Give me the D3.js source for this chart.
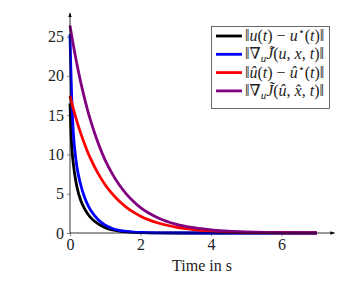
<!DOCTYPE html>
<html>
<head>
<meta charset="utf-8">
<script src="https://cdn.jsdelivr.net/npm/d3@7"></script>
<style>
  body { margin: 0; background: #fff; }
  svg, svg text { font-family: "Liberation Serif", "DejaVu Serif", serif; }
</style>
</head>
<body>
<svg id="chart" width="349" height="288"></svg>
<script>
// time samples (s)
const times = [0, 0.02, 0.05, 0.1, 0.15, 0.2, 0.3, 0.4, 0.5, 0.6, 0.8, 1.0, 1.2, 1.4, 1.6, 1.8, 2.0, 2.5, 3.0, 3.5, 4.0, 4.5, 5.0, 5.5, 6.0, 6.5, 7.0]

// values
const errU = [16.5, 13.8, 11.0, 8.6, 7.0, 5.8, 4.2, 3.2, 2.45, 1.9, 1.15, 0.68, 0.4, 0.24, 0.14, 0.08, 0.05, 0.01, 0, 0, 0, 0, 0, 0, 0, 0, 0]
const gradJ = [25.3, 21.5, 17.0, 12.4, 10.0, 8.3, 6.2, 4.7, 3.6, 2.8, 1.7, 1.0, 0.58, 0.34, 0.2, 0.12, 0.07, 0.02, 0.005, 0, 0, 0, 0, 0, 0, 0, 0]
const errUHat = [17.45, 17.09, 16.56, 15.71, 14.91, 14.14, 12.74, 11.48, 10.32, 9.31, 7.55, 6.11, 4.97, 4.03, 3.27, 2.65, 2.14, 1.27, 0.75, 0.44, 0.26, 0.155, 0.09, 0.054, 0.032, 0.019, 0.011]
const gradJHat = [26.4, 25.85, 25.05, 23.77, 22.56, 21.4, 19.27, 17.36, 15.62, 14.07, 11.42, 9.24, 7.52, 6.1, 4.95, 4.01, 3.23, 1.92, 1.13, 0.67, 0.4, 0.23, 0.14, 0.08, 0.048, 0.029, 0.017]

const xTicks = [0, 2, 4, 6]
const yTicks = [0, 5, 10, 15, 20, 25]
const xLabel = 'Time in s'

// legend labels as [text, italic?, sub/sup] pieces
const legendLabels = [
  [['‖', 0], ['u', 1], ['(', 0], ['t', 1], [') − ', 0], ['u', 1], ['⋆', 0, 'sup'], ['(', 0], ['t', 1], [')‖', 0]],
  [['‖∇', 0], ['u', 1, 'sub'], ['J̃', 1], ['(', 0], ['u', 1], [', ', 0], ['x', 1], [', ', 0], ['t', 1], [')‖', 0]],
  [['‖', 0], ['û', 1], ['(', 0], ['t', 1], [') − ', 0], ['û', 1], ['⋆', 0, 'sup'], ['(', 0], ['t', 1], [')‖', 0]],
  [['‖∇', 0], ['u', 1, 'sub'], ['J̃', 1], ['(', 0], ['û', 1], [', ', 0], ['x̂', 1], [', ', 0], ['t', 1], [')‖', 0]]
]

const series = [
  { values: errU, color: '#000000' },
  { values: gradJ, color: '#0000ff' },
  { values: errUHat, color: '#ff0000' },
  { values: gradJHat, color: '#800080' }
]

const svg = d3.select('#chart')
const FONT = '"Liberation Serif", "DejaVu Serif", serif'

const x = d3.scaleLinear().domain([0, 7.5]).range([70, 334.5])
const y = d3.scaleLinear().domain([0, 28]).range([233, 13])

svg.append('defs').append('marker')
  .attr('id', 'arrow')
  .attr('viewBox', '0 0 8 8')
  .attr('refX', 7)
  .attr('refY', 4)
  .attr('markerWidth', 6)
  .attr('markerHeight', 6)
  .attr('orient', 'auto')
  .append('path')
  .attr('d', 'M0,1 L8,4 L0,7 Z')
  .attr('fill', '#000')

// axes
const xAxis = svg.append('g')
  .attr('transform', 'translate(0,' + y(0) + ')')
  .call(d3.axisBottom(x).tickValues(xTicks).tickSize(3).tickPadding(3).tickFormat(d3.format('d')))
  .attr('font-family', FONT)
xAxis.select('.domain').remove()
xAxis.selectAll('.tick line').attr('stroke', '#888')
xAxis.selectAll('.tick text').attr('font-size', 16).attr('fill', '#222')

const yAxis = svg.append('g')
  .attr('transform', 'translate(' + x(0) + ',0)')
  .call(d3.axisLeft(y).tickValues(yTicks).tickSize(3).tickPadding(3).tickFormat(d3.format('d')))
  .attr('font-family', FONT)
yAxis.select('.domain').remove()
yAxis.selectAll('.tick line').attr('stroke', '#888')
yAxis.selectAll('.tick text').attr('font-size', 16).attr('fill', '#222')

const line = d3.line()
  .x((d, i) => x(times[i]))
  .y(d => y(d))
  .curve(d3.curveMonotoneX)

svg.append('g').selectAll('path')
  .data(series)
  .join('path')
  .attr('d', s => line(s.values))
  .attr('fill', 'none')
  .attr('stroke', s => s.color)
  .attr('stroke-width', 2.8)
  .attr('stroke-linejoin', 'round')

// axis lines with arrows
svg.append('line')
  .attr('x1', x(0)).attr('x2', x(7.5))
  .attr('y1', y(0)).attr('y2', y(0))
  .attr('stroke', '#000').attr('stroke-width', 0.8)
  .attr('marker-end', 'url(#arrow)')
svg.append('line')
  .attr('x1', x(0)).attr('x2', x(0))
  .attr('y1', y(0)).attr('y2', y(28))
  .attr('stroke', '#000').attr('stroke-width', 0.8)
  .attr('marker-end', 'url(#arrow)')

svg.append('text')
  .attr('x', 202)
  .attr('y', 271)
  .attr('text-anchor', 'middle')
  .attr('font-size', 16)
  .attr('fill', '#222')
  .text(xLabel)

// legend
const legend = svg.append('g')
legend.append('rect')
  .attr('x', 211.5).attr('y', 26.5)
  .attr('width', 118).attr('height', 82)
  .attr('fill', '#fff').attr('stroke', '#444').attr('stroke-width', 0.8)

legendLabels.forEach((pieces, i) => {
  const cy = 36 + i * 18.3
  legend.append('line')
    .attr('x1', 216).attr('x2', 242)
    .attr('y1', cy).attr('y2', cy)
    .attr('stroke', series[i].color).attr('stroke-width', 2.8)
  const t = legend.append('text')
    .attr('x', 245).attr('y', cy + 5)
    .attr('font-size', 16).attr('fill', '#222')
  let shift = 0
  pieces.forEach(p => {
    const span = t.append('tspan').text(p[0])
    if (p[1]) span.attr('font-style', 'italic')
    if (p[2] === 'sub') {
      span.attr('font-size', 11).attr('dy', 3)
      shift = 3
    } else if (p[2] === 'sup') {
      span.attr('font-size', 11).attr('dy', -6)
      shift = -6
    } else if (shift !== 0) {
      span.attr('dy', -shift)
      shift = 0
    }
  })
})
</script>
</body>
</html>
